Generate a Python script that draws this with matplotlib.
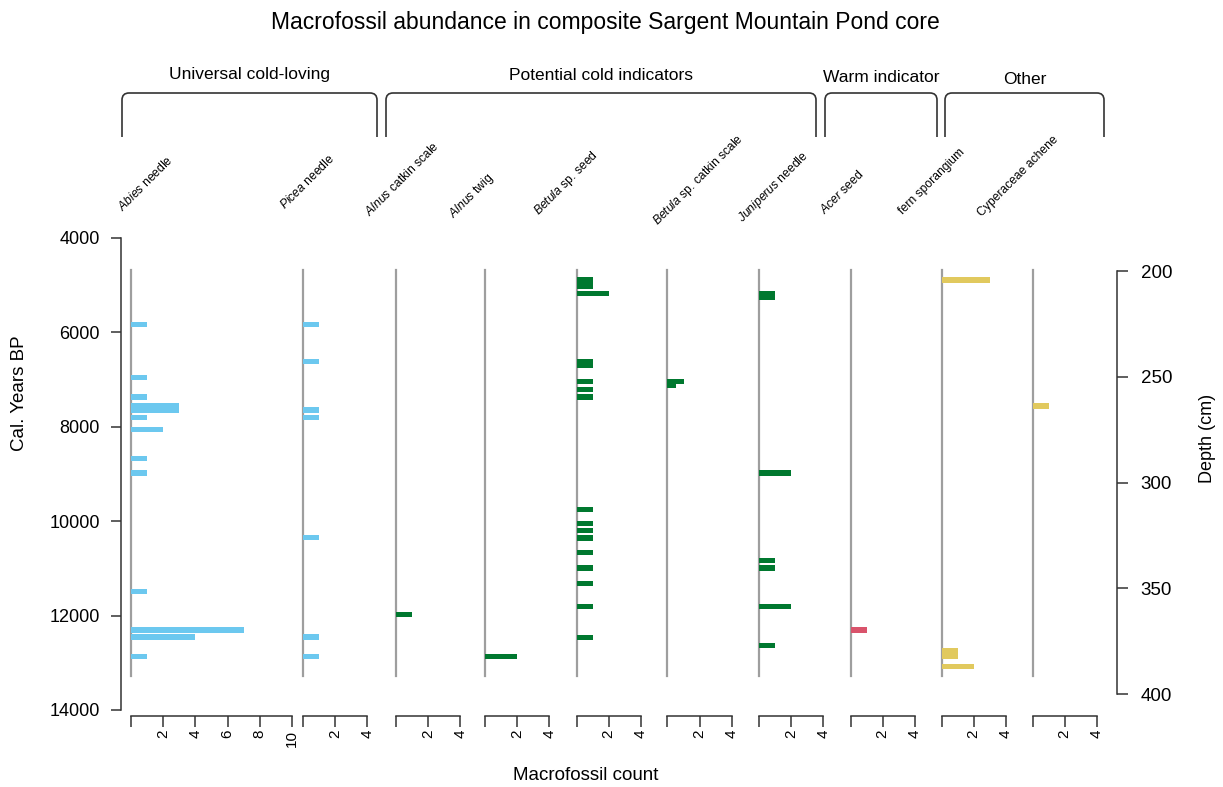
import matplotlib
matplotlib.use('Agg')
import matplotlib.pyplot as plt
from matplotlib.path import Path
from matplotlib.patches import PathPatch

plt.rcParams['font.family'] = ['Liberation Sans', 'DejaVu Sans']
plt.rcParams['mathtext.fontset'] = 'custom'
plt.rcParams['mathtext.rm'] = 'Liberation Sans'
plt.rcParams['mathtext.it'] = 'Liberation Sans:italic'

# ---------------- data ----------------
taxa = [r'$\it{Abies}$ needle', r'$\it{Picea}$ needle', r'$\it{Alnus}$ catkin scale',
        r'$\it{Alnus}$ twig', r'$\it{Betula}$ sp. seed', r'$\it{Betula}$ sp. catkin scale',
        r'$\it{Juniperus}$ needle', r'$\it{Acer}$ seed', 'fern sporangium', 'Cyperaceae achene']
groups = ['Universal cold-loving', 'Potential cold indicators', 'Warm indicator', 'Other']

# sample intervals (cal. years BP, top / bottom) and counts per taxon
abies_top = [5770, 6900, 7310, 7500, 7740, 8000, 8620, 8915, 11430, 12250, 12400, 12805]
abies_bot = [5880, 7015, 7425, 7700, 7855, 8115, 8730, 9035, 11540, 12360, 12515, 12915]
abies_cnt = [1, 1, 1, 3, 1, 2, 1, 1, 1, 7, 4, 1]

picea_top = [5770, 6555, 7590, 7740, 10290, 12400, 12805]
picea_bot = [5880, 6670, 7700, 7855, 10405, 12515, 12915]
picea_cnt = [1, 1, 1, 1, 1, 1, 1]

alnus_scale_top = [11925]
alnus_scale_bot = [12025]
alnus_scale_cnt = [1]

alnus_twig_top = [12805]
alnus_twig_bot = [12915]
alnus_twig_cnt = [2]

betula_seed_top = [4835, 5115, 6555, 6980, 7150, 7310, 9690, 10000, 10145, 10300, 10610, 10935, 11260, 11755, 12405]
betula_seed_bot = [5085, 5230, 6760, 7095, 7265, 7425, 9805, 10110, 10255, 10410, 10720, 11045, 11370, 11865, 12515]
betula_seed_cnt = [1, 2, 1, 1, 1, 1, 1, 1, 1, 1, 1, 1, 1, 1, 1]

betula_scale_top = [6980, 7095]
betula_scale_bot = [7095, 7185]
betula_scale_cnt = [1, 0.5]

juniperus_top = [5115, 8915, 10770, 10930, 11750, 12570]
juniperus_bot = [5310, 9035, 10885, 11045, 11865, 12680]
juniperus_cnt = [1, 2, 1, 1, 2, 1]

acer_top = [12250]
acer_bot = [12360]
acer_cnt = [1]

fern_top = [4835, 12680, 12800, 13015]
fern_bot = [4945, 12800, 12915, 13135]
fern_cnt = [3, 1, 1, 2]

cyper_top = [7505]
cyper_bot = [7625]
cyper_cnt = [1]

tops = [abies_top, picea_top, alnus_scale_top, alnus_twig_top, betula_seed_top,
        betula_scale_top, juniperus_top, acer_top, fern_top, cyper_top]
bots = [abies_bot, picea_bot, alnus_scale_bot, alnus_twig_bot, betula_seed_bot,
        betula_scale_bot, juniperus_bot, acer_bot, fern_bot, cyper_bot]
cnts = [abies_cnt, picea_cnt, alnus_scale_cnt, alnus_twig_cnt, betula_seed_cnt,
        betula_scale_cnt, juniperus_cnt, acer_cnt, fern_cnt, cyper_cnt]
xmax = [10, 4, 4, 4, 4, 4, 4, 4, 4, 4]

age_ticks = [4000, 6000, 8000, 10000, 12000, 14000]
depth_ticks = [200, 250, 300, 350, 400]
age_line = (4680, 13280)  # extent of the panel baselines

BLUE, GREEN, RED, YELLOW = '#6CC8EF', '#00782F', '#D9536B', '#E1C95E'
colors = [BLUE, BLUE, GREEN, GREEN, GREEN, GREEN, GREEN, RED, YELLOW, YELLOW]

# ---------------- layout (pixels) ----------------
W, H = 1223, 787
base_x = [131, 303, 396, 485, 576.5, 667.5, 759, 850.5, 941.5, 1032.5]
unit = 16.1
y_top, y_bot = 238, 710        # 4000 and 14000
d_top, d_bot = 271, 694        # 200 and 400 cm
label_xy = [(123, 212), (285, 210), (370, 217), (453, 218), (538, 215),
            (657, 225), (742, 222), (825, 215), (903, 215), (982, 217)]
group_span = [(122, 377), (386, 816), (825, 937), (945, 1104)]
group_label_y = [75, 75, 78, 80]
DARK = '#333333'
px2pt = 0.72

fig = plt.figure(figsize=(W / 100, H / 100), dpi=100)

# overlay for decorations (pixel coordinates)
ov = fig.add_axes([0, 0, 1, 1], zorder=0)
ov.set_xlim(0, W)
ov.set_ylim(H, 0)
ov.axis('off')
ov.patch.set_alpha(0)

ov.text(605, 22, 'Macrofossil abundance in composite Sargent Mountain Pond core',
        ha='center', va='center', fontsize=16.5, color='black')

for (x0, x1), g, gy in zip(group_span, groups, group_label_y):
    yt, yb, r = 93, 137, 7
    verts = [(x0, yb), (x0, yt + r), (x0, yt), (x0 + r, yt), (x1 - r, yt),
             (x1, yt), (x1, yt + r), (x1, yb)]
    codes = [Path.MOVETO, Path.LINETO, Path.CURVE3, Path.CURVE3, Path.LINETO,
             Path.CURVE3, Path.CURVE3, Path.LINETO]
    ov.add_patch(PathPatch(Path(verts, codes), fill=False, ec=DARK, lw=1.2))
    ov.text((x0 + x1) / 2, gy, g, ha='center', va='center', fontsize=12.5)

for (lx, ly), t in zip(label_xy, taxa):
    ov.text(lx, ly, t, rotation=45, rotation_mode='anchor', ha='left',
            va='baseline', fontsize=8.7)

ov.text(586, 776, 'Macrofossil count', ha='center', va='center', fontsize=13.5)
ov.text(20, 393, 'Cal. Years BP', rotation=90, ha='center', va='center', fontsize=13.5)
ov.text(1207, 438, 'Depth (cm)', rotation=90, ha='center', va='center', fontsize=13)

# panels
for i in range(len(taxa)):
    ax = fig.add_axes([base_x[i] / W, 1 - y_bot / H, xmax[i] * unit / W, (y_bot - y_top) / H],
                      zorder=2)
    ax.patch.set_alpha(0)
    ax.set_xlim(0, xmax[i])
    ax.set_ylim(age_ticks[-1], age_ticks[0])
    for s in ['top', 'right', 'left']:
        ax.spines[s].set_visible(False)
    ax.spines['bottom'].set_position(('outward', 6 * px2pt))
    ax.spines['bottom'].set_bounds(0, xmax[i])
    ax.spines['bottom'].set_color(DARK)
    ax.spines['bottom'].set_linewidth(1.1)
    xt = list(range(0, xmax[i] + 1, 2))
    ax.set_xticks(xt)
    ax.set_xticklabels([''] + [str(v) for v in xt[1:]], rotation=90)
    ax.tick_params(axis='x', direction='out', length=11 * px2pt, width=1.1, color=DARK,
                   labelsize=11, pad=2)
    ax.plot([0, 0], age_line, color='#9E9E9E', lw=1.6, zorder=1, clip_on=False)
    centers = [(a + b) / 2 for a, b in zip(tops[i], bots[i])]
    heights = [b - a for a, b in zip(tops[i], bots[i])]
    ax.barh(centers, cnts[i], height=heights, left=0, color=colors[i],
            edgecolor='none', zorder=2)
    if i == 0:
        ax.spines['left'].set_visible(True)
        ax.spines['left'].set_position(('outward', 10 * px2pt))
        ax.spines['left'].set_bounds(age_ticks[0], age_ticks[-1])
        ax.spines['left'].set_color(DARK)
        ax.spines['left'].set_linewidth(1.1)
        ax.set_yticks(age_ticks)
        ax.tick_params(axis='y', direction='out', length=10 * px2pt, width=1.1,
                       color=DARK, labelsize=13, pad=8)
    else:
        ax.set_yticks([])

# depth axis
axd = fig.add_axes([1117 / W, 1 - d_bot / H, 0.0001, (d_bot - d_top) / H], zorder=2)
axd.patch.set_alpha(0)
axd.set_ylim(depth_ticks[-1], depth_ticks[0])
for s in ['top', 'bottom', 'left']:
    axd.spines[s].set_visible(False)
axd.spines['right'].set_color(DARK)
axd.spines['right'].set_linewidth(1.1)
axd.yaxis.tick_right()
axd.set_yticks(depth_ticks)
axd.set_xticks([])
axd.tick_params(axis='y', direction='out', length=11 * px2pt, width=1.1, color=DARK,
                labelsize=13.5, pad=9)

fig.savefig('out.png', dpi=100)
